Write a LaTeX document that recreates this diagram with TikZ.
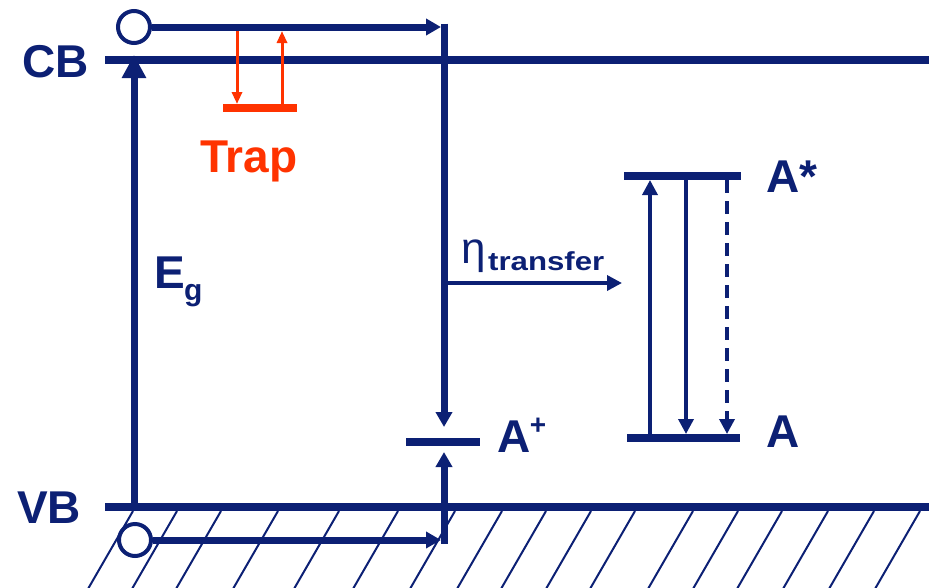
\documentclass[tikz,border=0pt]{standalone}
\usepackage{fontspec}
\setmainfont{Liberation Sans}
\usepackage{graphicx}
\usetikzlibrary{arrows.meta}
\definecolor{navy}{RGB}{12,32,116}
\definecolor{trapred}{RGB}{255,51,0}
\begin{document}
\begin{tikzpicture}[x=1pt,y=-1pt,
  level/.style={navy,line width=8.5pt},
  mainarrow/.style={navy,line width=7pt,-{Triangle[length=15pt,width=16pt]}},
  gaparrow/.style={navy,line width=7pt,-{Triangle[length=23pt,width=23pt]}},
  thinarrow/.style={navy,line width=3.5pt,-{Triangle[length=15pt,width=15pt]}},
  redarrow/.style={trapred,line width=3pt,-{Triangle[length=12pt,width=10pt]}},
  hatch/.style={navy,line width=2pt},
  hole/.style={circle,draw=navy,line width=4pt,minimum size=32pt,inner sep=0pt},
  big/.style={font=\fontsize{46}{46}\selectfont\bfseries,text=navy,inner sep=0pt,anchor=base west},
  sublabel/.style={font=\fontsize{30}{30}\selectfont\bfseries,text=navy,inner sep=0pt,anchor=base west}
]
\useasboundingbox (0,0) rectangle (929,587);
% hatching below the valence band
\begin{scope}
\clip (0,511) rectangle (929,587);
\foreach \t in {133,177,221,278,339,398,455,502,546,591,635,693,738,782,828,874,920}
  \draw[hatch] (\t,511) -- ++(-52,90);
\end{scope}
% band edges
\coordinate (cbL) at (105,60); \coordinate (cbR) at (929,60);
\coordinate (vbL) at (105,507); \coordinate (vbR) at (929,507);
\draw[level] (cbL) -- (cbR);
\draw[level] (vbL) -- (vbR);
% holes / electrons
\node[hole] (h1) at (134,27) {};
\node[hole] (h2) at (135,540) {};
\coordinate (t1) at (441,27);
\coordinate (t2) at (441,540);
\draw[mainarrow] (h1.east) -- (t1);
\draw[mainarrow] (h2.east) -- (t2);
% vertical transfer lines to A+
\coordinate (vTop) at (444,23.5);
\coordinate (apTip1) at (444,427);
\coordinate (vBot) at (444,543.5);
\coordinate (apTip2) at (444,452);
\draw[mainarrow] (vTop) -- (apTip1);
\draw[mainarrow] (vBot) -- (apTip2);
% A+ level
\coordinate (apL) at (406,442); \coordinate (apR) at (480,442);
\draw[level] (apL) -- (apR);
% band gap arrow
\coordinate (egB) at (134,507); \coordinate (egT) at (134,55);
\draw[gaparrow] (egB) -- (egT);
% trap
\coordinate (trL) at (223,108); \coordinate (trR) at (297,108);
\draw[trapred,line width=8pt] (trL) -- (trR);
\coordinate (r1a) at (237,31); \coordinate (r1b) at (237,104);
\coordinate (r2a) at (282,104); \coordinate (r2b) at (282,31);
\draw[redarrow] (r1a) -- (r1b);
\draw[redarrow] (r2a) -- (r2b);
% transfer arrow
\coordinate (etaA) at (448,283); \coordinate (etaB) at (622,283);
\draw[thinarrow] (etaA) -- (etaB);
% A and A* levels
\coordinate (asL) at (624,176); \coordinate (asR) at (741,176);
\coordinate (aL) at (627,438); \coordinate (aR) at (740,438);
\draw[level] (asL) -- (asR);
\draw[level] (aL) -- (aR);
\coordinate (u1) at (650,434); \coordinate (u2) at (650,180);
\coordinate (m1) at (686,180); \coordinate (m2) at (686,434);
\coordinate (d1) at (727,180); \coordinate (d2) at (727,434);
\draw[thinarrow] (u1) -- (u2);
\draw[thinarrow] (m1) -- (m2);
\draw[thinarrow,dash pattern=on 13pt off 8pt] (d1) -- (d2);
% labels
\node[big] (cb) at (22,77) {CB};
\node[big] (vb) at (17,523) {VB};
\node[big] (eg) at (154,288) {E};
\node[sublabel] (egs) at (184,300) {g};
\node[big,text=trapred] (trap) at (200,172) {Trap};
\node[font=\fontsize{44}{44}\selectfont,text=navy,inner sep=0pt,anchor=base west] (eta) at (461,263) {η};
\node[font=\fontsize{26}{26}\selectfont\bfseries,text=navy,inner sep=0pt,anchor=base west] (etas) at (488,270) {\scalebox{1.2}[1]{transfer}};
\node[big] (astar) at (766,192) {A*};
\node[big] (a) at (766,447) {A};
\node[big] (aplus) at (497,452) {A};
\node[font=\fontsize{28}{28}\selectfont\bfseries,text=navy,inner sep=0pt] (plus) at (538,426) {+};
\end{tikzpicture}
\end{document}
